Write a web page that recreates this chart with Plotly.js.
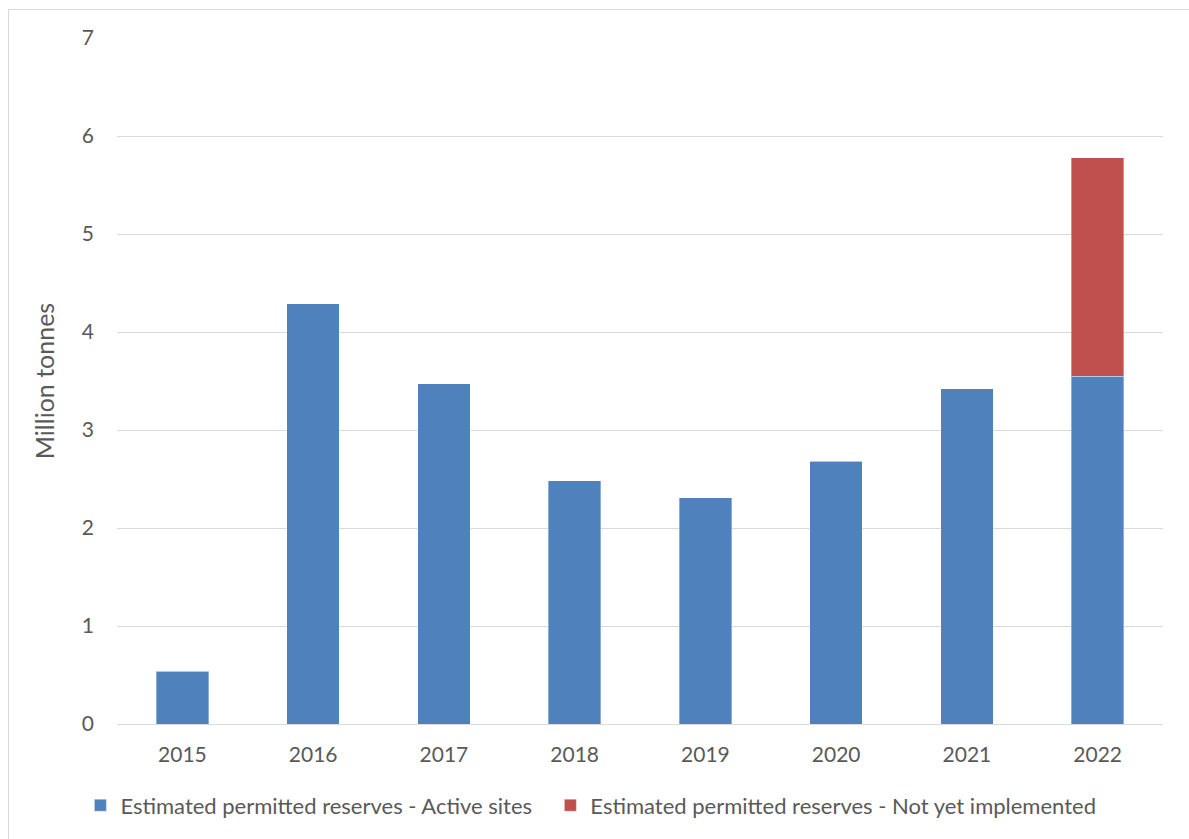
<!DOCTYPE html>
<html>
<head>
<meta charset="utf-8">
<script src="https://cdn.plot.ly/plotly-3.0.1.min.js"></script>
<style>
html,body{margin:0;padding:0;background:#fff;overflow:hidden;}
#chart{width:1189px;height:839px;}
#frame{position:absolute;left:8px;top:9px;width:1300px;height:1000px;border-left:1px solid #D9D9D9;border-top:1px solid #D9D9D9;pointer-events:none;}
</style>
</head>
<body>
<div id="chart"></div>
<div id="frame"></div>
<script>
const years = ['2015','2016','2017','2018','2019','2020','2021','2022'];
const activeSites = [0.54, 4.29, 3.47, 2.48, 2.31, 2.68, 3.42, 3.55];
const notYetImplemented = [0, 0, 0, 0, 0, 0, 0, 2.23];
const seriesNames = ['Estimated permitted reserves - Active sites', 'Estimated permitted reserves - Not yet implemented'];
const yTicks = [0,1,2,3,4,5,6,7];

const font = 'Lato, "Open Sans", sans-serif';
const traces = [
  {type:'bar', x:years, y:activeSites, name:seriesNames[0], legend:'legend',
   marker:{color:'#4F81BD', line:{color:'rgba(255,255,255,0.35)', width:1}}},
  {type:'bar', x:years, y:notYetImplemented, name:seriesNames[1], legend:'legend2',
   marker:{color:'#C0504D', line:{color:'rgba(255,255,255,0.35)', width:1}}}
];
const legFont = {family:font, size:22, color:'#595959'};
const layout = {
  width:1189, height:839,
  margin:{l:117, r:26, t:38, b:115, autoexpand:false},
  barmode:'stack', bargap:0.6,
  paper_bgcolor:'#fff', plot_bgcolor:'#fff',
  font:{family:font, size:21, color:'#595959'},
  showlegend:true,
  legend:{orientation:'h', x:-0.035, xanchor:'left', y:-0.088, yanchor:'top',
          font:legFont, itemwidth:30},
  legend2:{orientation:'h', x:0.4143, xanchor:'left', y:-0.088, yanchor:'top',
          font:legFont, itemwidth:30},
  xaxis:{type:'category', showgrid:false, showline:true, linecolor:'#D9D9D9', linewidth:1,
         automargin:false, ticks:'', ticklabelstandoff:12, tickfont:{family:font, size:21, color:'#595959'}},
  yaxis:{range:[0,7], tickvals:yTicks, showgrid:true, gridcolor:'#D9D9D9', gridwidth:1,
         automargin:false, zeroline:false, showline:false, ticks:'', ticklabelstandoff:22,
         tickfont:{family:font, size:21, color:'#595959'},
         title:{text:'Million tonnes', standoff:20, font:{family:font, size:25, color:'#595959'}}}
};
Plotly.newPlot('chart', traces, layout, {displayModeBar:false, staticPlot:true});
</script>
</body>
</html>
